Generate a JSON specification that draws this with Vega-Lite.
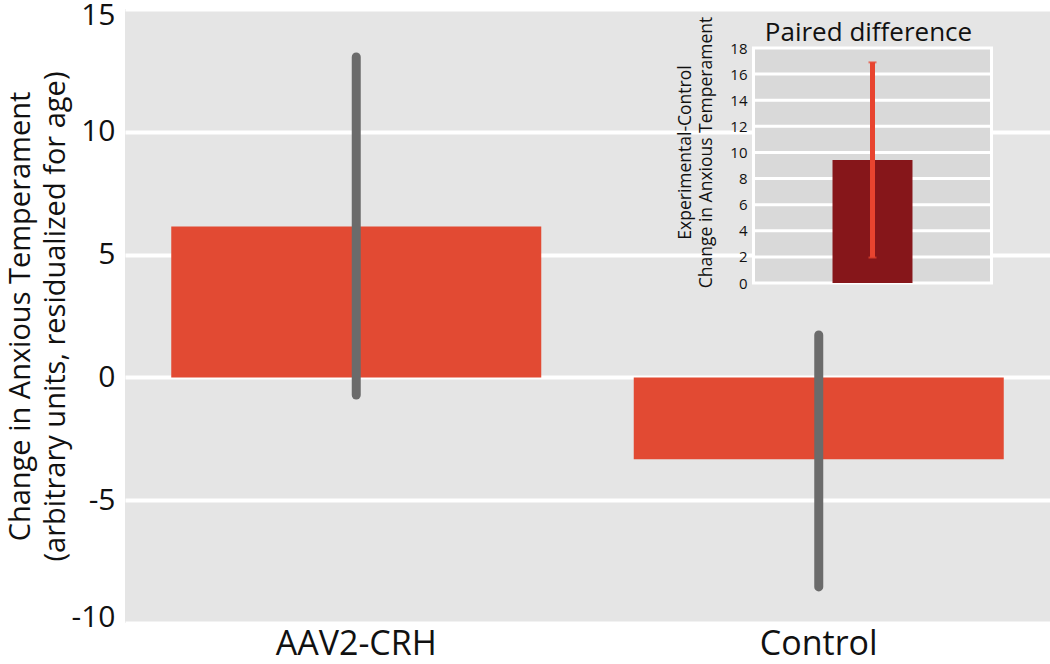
{
  "$schema": "https://vega.github.io/schema/vega-lite/v6.json",
  "width": 925,
  "height": 614,
  "autosize": {"type": "none"},
  "padding": {"left": 125, "top": 9, "right": 0, "bottom": 41},
  "background": "white",
  "config": {"view": {"fill": "#e5e5e5", "stroke": null}, "font": "Open Sans"},
  "datasets": {
    "main": [
      {"group": "AAV2-CRH", "mean": 6.14, "lo": -0.72, "hi": 13.05},
      {"group": "Control", "mean": -3.33, "lo": -8.53, "hi": 1.73}
    ],
    "inset": [
      {"label": "Paired difference", "mean": 9.42, "lo": 1.95, "hi": 16.9}
    ],
    "insetGrid": [{"v": 2}, {"v": 4}, {"v": 6}, {"v": 8}, {"v": 10}, {"v": 12}, {"v": 14}, {"v": 16}]
  },
  "layer": [
    {
      "data": {"name": "main"},
      "encoding": {
        "x": {
          "field": "group", "type": "nominal",
          "scale": {"type": "band", "paddingInner": 0.2, "paddingOuter": 0.1},
          "axis": {"orient": "bottom", "title": null, "labelFontSize": 34, "labelPadding": 4, "ticks": false, "domain": false, "labelAngle": 0, "labelColor": "#111111", "grid": false}
        }
      },
      "layer": [
        {
          "mark": {"type": "bar", "color": "#e24a33"},
          "encoding": {
            "y": {
              "field": "mean", "type": "quantitative",
              "scale": {"domain": [-10, 15], "nice": false, "zero": false},
              "axis": {
                "orient": "left", "values": [-10, -5, 0, 5, 10, 15], "grid": true, "gridColor": "white", "gridWidth": 4,
                "ticks": false, "domain": false, "labelFontSize": 30, "labelPadding": 10, "labelColor": "#111111",
                "labelExpr": "'' + datum.value", "labelFlush": true, "labelFlushOffset": 9,
                "title": ["Change in Anxious Temperament", "(arbitrary units, residualized for age)"],
                "titleFontSize": 29, "titleFontWeight": "normal", "titleLineHeight": 35, "titleColor": "#111111",
                "titleX": -119, "titleY": 307, "titleBaseline": "top", "titleAlign": "center", "titleAngle": 270
              }
            }
          }
        },
        {
          "mark": {"type": "rule", "color": "#6b6b6b", "strokeWidth": 9, "strokeCap": "round"},
          "encoding": {
            "y": {"field": "lo", "type": "quantitative"},
            "y2": {"field": "hi"}
          }
        }
      ]
    },
    {
      "data": {"name": "inset"},
      "layer": [
        {
          "mark": {"type": "rect", "fill": "#d9d9d9", "stroke": "white", "strokeWidth": 3},
          "encoding": {
            "x": {
              "field": "label", "type": "nominal",
              "scale": {"type": "band", "range": [628.5, 866.5], "paddingInner": 0, "paddingOuter": 0},
              "axis": {"orient": "top", "offset": -39, "title": null, "ticks": false, "domain": false, "labelFontSize": 26, "labelPadding": 8, "labelAngle": 0, "labelLimit": 400, "labelBaseline": "alphabetic", "labelColor": "#111111", "grid": false, "labelOffset": -4}
            },
            "y": {
              "datum": 0, "type": "quantitative",
              "scale": {"domain": [0, 18], "range": [274, 39], "nice": false},
              "axis": {
                "orient": "left", "offset": -628, "values": [0, 2, 4, 6, 8, 10, 12, 14, 16, 18], "grid": false,
                "ticks": false, "domain": false, "labelFontSize": 15, "labelPadding": 6, "labelColor": "#111111",
                "title": ["Experimental-Control", "Change in Anxious Temperament"],
                "titleFontSize": 17.5, "titleFontWeight": "normal", "titleLineHeight": 21, "titleColor": "#111111",
                "titleX": -77, "titleY": 143, "titleBaseline": "top", "titleAlign": "center", "titleAngle": 270
              }
            },
            "y2": {"datum": 18}
          }
        },
        {
          "data": {"name": "insetGrid"},
          "mark": {"type": "rect", "fill": null, "stroke": "white", "strokeWidth": 3},
          "encoding": {
            "x": {"datum": "Paired difference", "type": "nominal"},
            "y": {"field": "v", "type": "quantitative"},
            "y2": {"field": "v"}
          }
        },
        {
          "mark": {"type": "bar", "color": "#86161a", "width": {"band": 0.336}},
          "encoding": {
            "x": {"field": "label", "type": "nominal"},
            "y": {"field": "mean", "type": "quantitative"}
          }
        },
        {
          "mark": {"type": "rule", "color": "#e8442f", "strokeWidth": 5},
          "encoding": {
            "x": {"field": "label", "type": "nominal"},
            "y": {"field": "lo", "type": "quantitative"},
            "y2": {"field": "hi"}
          }
        },
        {
          "mark": {"type": "tick", "color": "#e8442f", "size": 8, "thickness": 2},
          "encoding": {
            "x": {"field": "label", "type": "nominal"},
            "y": {"field": "hi", "type": "quantitative"}
          }
        },
        {
          "mark": {"type": "tick", "color": "#e8442f", "size": 8, "thickness": 2},
          "encoding": {
            "x": {"field": "label", "type": "nominal"},
            "y": {"field": "lo", "type": "quantitative"}
          }
        }
      ]
    }
  ],
  "resolve": {"scale": {"x": "independent", "y": "independent"}}
}
